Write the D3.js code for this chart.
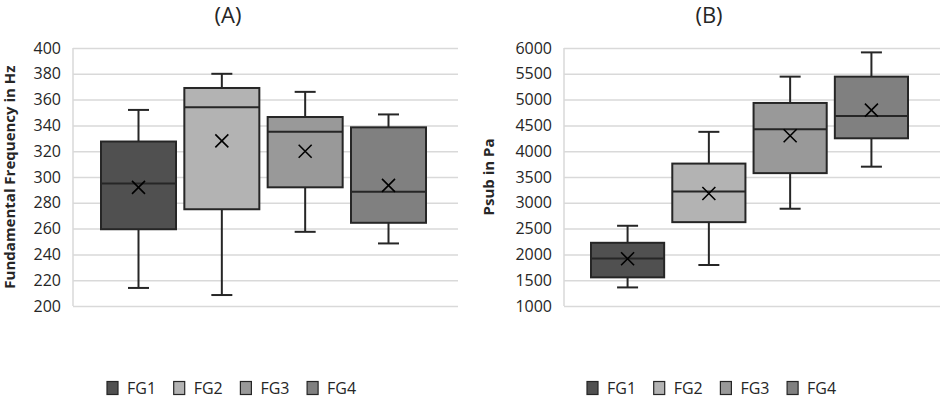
<!DOCTYPE html>
<html lang="en">
<head>
<meta charset="UTF-8">
<title>F0 and Psub box plots</title>
<script src="https://d3js.org/d3.v7.min.js"></script>
<style>
  body { margin: 0; background: #fff; }
  text { font-family: "Open Sans", Lato, sans-serif; fill: #262626; }
</style>
</head>
<body>
<div id="chart"></div>
<script>
// groups and their colours
var groups = ["FG1", "FG2", "FG3", "FG4"];
var groupColors = ["#505050", "#b3b3b3", "#999999", "#808080"];

// (A) fundamental frequency in Hz
var f0Min    = [214, 208.5, 257.5, 248.5];
var f0Q1     = [259.5, 275, 292, 264.5];
var f0Median = [295, 354, 335, 288.5];
var f0Q3     = [327.5, 369, 346.5, 338.5];
var f0Max    = [352, 380, 366, 348.5];
var f0Mean   = [292, 328, 320, 293.5];
var f0Ticks  = [200, 220, 240, 260, 280, 300, 320, 340, 360, 380, 400];

// (B) subglottal pressure in Pa
var psubMin    = [1360, 1795, 2885, 3700];
var psubQ1     = [1555, 2625, 3575, 4250];
var psubMedian = [1920, 3220, 4425, 4680];
var psubQ3     = [2225, 3760, 4935, 5445];
var psubMax    = [2555, 4375, 5445, 5915];
var psubMean   = [1915, 3180, 4300, 4795];
var psubTicks  = [1000, 1500, 2000, 2500, 3000, 3500, 4000, 4500, 5000, 5500, 6000];

var W = 941, H = 398;
var svg = d3.select("#chart").append("svg")
    .attr("width", W)
    .attr("height", H);

function buildRows(mins, q1s, meds, q3s, maxs, means) {
    return groups.map(function (g, i) {
        return {group: g, color: groupColors[i], min: mins[i], q1: q1s[i],
                median: meds[i], q3: q3s[i], max: maxs[i], mean: means[i]};
    });
}

function drawPanel(opt) {
    var top = 48, bottom = 306;
    var g = svg.append("g");

    var y = d3.scaleLinear()
        .domain([opt.ticks[0], opt.ticks[opt.ticks.length - 1]])
        .range([bottom, top]);

    var x = d3.scaleBand()
        .domain(groups)
        .range([opt.left + opt.insetL, opt.right - opt.insetR])
        .paddingInner(0.1);

    // gridlines + tick labels
    var axis = g.append("g")
        .attr("transform", "translate(" + opt.left + ",0)")
        .call(d3.axisLeft(y).tickValues(opt.ticks)
            .tickSize(-(opt.right - opt.left))
            .tickPadding(12)
            .tickFormat(d3.format("d")));
    axis.select(".domain").remove();
    axis.selectAll(".tick line").attr("stroke", "#d9d9d9").attr("stroke-width", 1.5);
    axis.selectAll(".tick text")
        .style("font-family", "'Open Sans', Lato, sans-serif")
        .style("font-size", "16px")
        .attr("fill", "#262626");

    g.append("line")
        .attr("x1", opt.left).attr("x2", opt.left)
        .attr("y1", y.range()[0]).attr("y2", y.range()[1])
        .attr("stroke", "#d9d9d9").attr("stroke-width", 1.5);

    // title
    g.append("text")
        .attr("x", opt.titleX)
        .attr("y", 23)
        .attr("text-anchor", "middle")
        .style("font-size", "22px")
        .text(opt.title);

    // y axis title
    g.append("text")
        .attr("transform", "translate(" + opt.yTitleX + "," + ((top + bottom) / 2) + ") rotate(-90)")
        .attr("text-anchor", "middle")
        .attr("dy", "0.35em")
        .style("font-size", "15px")
        .style("font-weight", "bold")
        .text(opt.yTitle);

    var capW = 21;
    var boxes = g.selectAll(".box")
        .data(opt.rows)
        .enter().append("g")
        .attr("class", "box");

    boxes.append("line")
        .attr("x1", d => x(d.group) + x.bandwidth() / 2)
        .attr("x2", d => x(d.group) + x.bandwidth() / 2)
        .attr("y1", d => y(d.max))
        .attr("y2", d => y(d.min))
        .attr("stroke", "#262626").attr("stroke-width", 2);

    boxes.selectAll(".cap")
        .data(d => [d.min, d.max].map(v => ({group: d.group, v: v})))
        .enter().append("line")
        .attr("class", "cap")
        .attr("x1", d => x(d.group) + x.bandwidth() / 2 - capW / 2)
        .attr("x2", d => x(d.group) + x.bandwidth() / 2 + capW / 2)
        .attr("y1", d => y(d.v))
        .attr("y2", d => y(d.v))
        .attr("stroke", "#262626").attr("stroke-width", 2);

    boxes.append("rect")
        .attr("x", d => x(d.group))
        .attr("width", x.bandwidth())
        .attr("y", d => y(d.q3))
        .attr("height", d => y(d.q1) - y(d.q3))
        .attr("fill", d => d.color)
        .attr("stroke", "#262626").attr("stroke-width", 2);

    boxes.append("line")
        .attr("x1", d => x(d.group))
        .attr("x2", d => x(d.group) + x.bandwidth())
        .attr("y1", d => y(d.median))
        .attr("y2", d => y(d.median))
        .attr("stroke", "#262626").attr("stroke-width", 2);

    // mean marker (x)
    var m = 6.5;
    boxes.append("path")
        .attr("d", function (d) {
            var cx = x(d.group) + x.bandwidth() / 2, cy = y(d.mean);
            return "M" + (cx - m) + "," + (cy - m) + "L" + (cx + m) + "," + (cy + m) +
                   "M" + (cx - m) + "," + (cy + m) + "L" + (cx + m) + "," + (cy - m);
        })
        .attr("stroke", "#000").attr("stroke-width", 1.6).attr("fill", "none");

    // legend
    var legend = g.selectAll(".legend")
        .data(opt.rows)
        .enter().append("g")
        .attr("class", "legend")
        .attr("transform", (d, i) => "translate(" + (opt.legendX + i * 66.7) + ",388)");

    legend.append("rect")
        .attr("x", 0).attr("y", -6.5)
        .attr("width", 11).attr("height", 13)
        .attr("fill", d => d.color)
        .attr("stroke", "#262626").attr("stroke-width", 1.2);

    legend.append("text")
        .attr("x", 20)
        .attr("dy", "0.36em")
        .style("font-size", "16px")
        .text(d => d.group);
}

drawPanel({
    rows: buildRows(f0Min, f0Q1, f0Median, f0Q3, f0Max, f0Mean),
    ticks: f0Ticks,
    left: 73, right: 458, insetL: 28, insetR: 32,
    title: "(A)", titleX: 228,
    yTitle: "Fundamental Frequency in Hz", yTitleX: 10,
    legendX: 107
});

drawPanel({
    rows: buildRows(psubMin, psubQ1, psubMedian, psubQ3, psubMax, psubMean),
    ticks: psubTicks,
    left: 564, right: 940, insetL: 27, insetR: 32,
    title: "(B)", titleX: 709,
    yTitle: "Psub in Pa", yTitleX: 489,
    legendX: 587
});
</script>
</body>
</html>
